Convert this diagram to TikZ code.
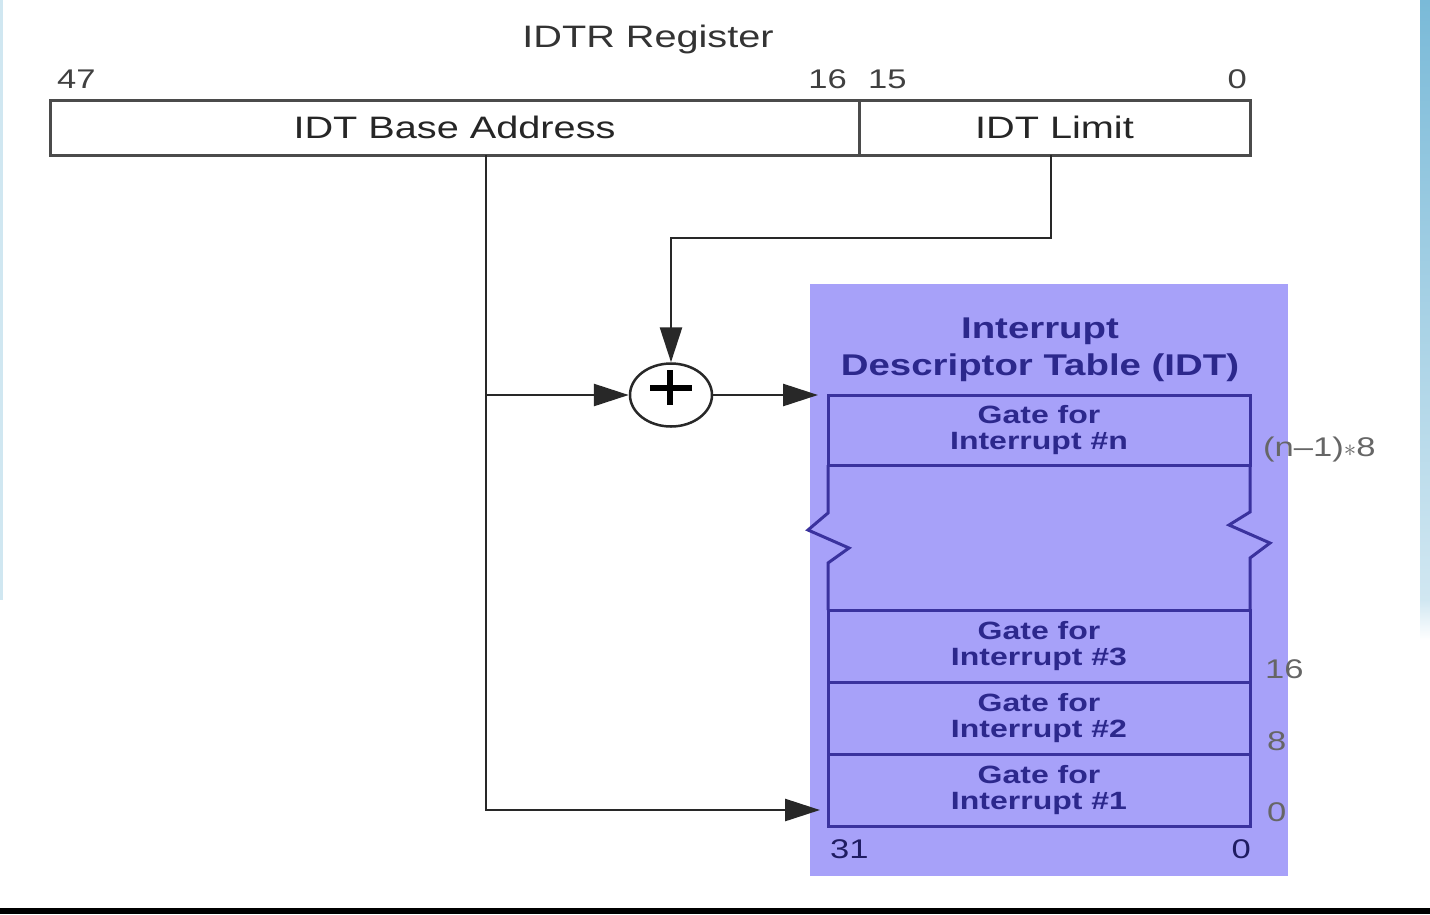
\documentclass[tikz,border=0pt]{standalone}
\usepackage{fontspec}
\setmainfont{Liberation Sans}[FakeStretch=1.28]
\usetikzlibrary{arrows.meta, positioning, shapes.geometric, calc}
\definecolor{idtfill}{RGB}{167,161,249}
\definecolor{idtline}{RGB}{58,50,158}
\definecolor{idttext}{RGB}{44,40,140}
\definecolor{wiregray}{RGB}{40,40,40}
\definecolor{reggray}{RGB}{75,75,75}
\definecolor{edgeblue}{RGB}{122,186,216}

\begin{document}
\begin{tikzpicture}[x=1pt, y=-1pt, node distance=0pt,
    field/.style={draw=reggray, line width=3pt, minimum height=55pt, inner sep=0pt, outer sep=0pt,
        text=black!85, font=\fontsize{31}{31}\selectfont},
    bitno/.style={inner sep=0pt, text=black!75, font=\fontsize{27}{27}\selectfont},
    offs/.style={bitno, anchor=base west, text=black!60},
    gate/.style={draw=idtline, line width=3pt, minimum width=422pt, minimum height=72pt, inner sep=0pt, outer sep=0pt,
        align=center, text=idttext, font=\bfseries\fontsize{25}{26}\selectfont},
    wire/.style={draw=wiregray, line width=2.7pt},
    arr/.style={wire, -{Triangle[length=35pt, width=22pt]}},
    adder/.style={ellipse, draw=wiregray, line width=2.5pt, minimum width=82pt, minimum height=63pt, inner sep=0pt},
    plus/.style={draw=black, line width=6pt}
]
    \useasboundingbox (0,0) rectangle (1430,914);
    \fill[white] (0,0) rectangle (1430,914);
    \shade[top color=edgeblue, bottom color=edgeblue!35] (1420,0) rectangle (1430,600);
    \shade[top color=edgeblue!35, bottom color=white] (1420,600) rectangle (1430,640);
    \fill[edgeblue!35] (0,0) rectangle (2.5,600);
    \fill[black] (0,908) rectangle (1430,914);

    % IDTR register
    \node[anchor=base, text=black!80, font=\fontsize{31}{31}\selectfont] (idtr) at (648,47) {IDTR Register};
    \node[field, minimum width=809pt] (base) at (454.5,127.5) {IDT Base Address};
    \node[field, minimum width=391pt, right=of base] (limit) {IDT Limit};
    \node[bitno, anchor=base west] (b47) at ($(base.north west)+(7,-12)$) {47};
    \node[bitno, anchor=base east] (b16) at ($(base.north east)+(-12,-12)$) {16};
    \node[bitno, anchor=base west] (b15) at ($(limit.north west)+(9,-12)$) {15};
    \node[bitno, anchor=base east] (b0) at ($(limit.north east)+(-3,-12)$) {0};

    % IDT in memory
    \node[fill=idtfill, minimum width=478pt, minimum height=592pt, inner sep=0pt] (idt) at (1049,580) {};
    \node[below=34pt of idt.north, xshift=-9pt, align=center, inner sep=0pt, text=idttext,
        font=\bfseries\fontsize{30}{37}\selectfont] (idtname) {Interrupt\\Descriptor Table (IDT)};
    \node[gate, minimum height=70pt] (rown) at (1039,430) {Gate for\\Interrupt \#n};
    \node[gate] (row1) at (1039,790) {Gate for\\Interrupt \#1};
    \node[gate, above=of row1] (row2) {Gate for\\Interrupt \#2};
    \node[gate, above=of row2] (row3) {Gate for\\Interrupt \#3};
    \draw[idtline, line width=3pt] (rown.south west) -- ++(0,48) -- ++(-20,17) -- ++(41,18) -- ++(-21,15) -- (row3.north west);
    \draw[idtline, line width=3pt] (rown.south east) -- ++(0,47) -- ++(-21,13) -- ++(41,18) -- ++(-20,15) -- (row3.north east);

    \node[offs] (offn) at ($(rown.south east)+(13,-9)$) {(n–1)$\ast$8};
    \node[offs] (off3) at ($(row3.south east)+(15,-4)$) {16};
    \node[offs] (off2) at ($(row2.south east)+(17,-4)$) {8};
    \node[offs] (off1) at ($(row1.south east)+(17,-5)$) {0};
    \node[bitno, anchor=base west, text=idttext!70!black] (t31) at ($(row1.south west)+(2,32)$) {31};
    \node[bitno, anchor=base east, text=idttext!70!black] (t0) at ($(row1.south east)+(1,32)$) {0};

    % adder and connectors
    \node[adder] (add) at (671,395) {};
    \draw[plus] ($(add)+(-21,-7)$) -- ++(42,0);
    \draw[plus] ($(add)+(-1,-25)$) -- ++(0,35);

    \coordinate (basetap) at ($(base.south west)+(436,0)$);
    \coordinate (limtap) at ($(limit.south west)+(192,0)$);
    \coordinate (entry0) at ($(row1.south west)+(0,-16)$);
    \draw[arr, shorten >=8pt] (basetap) |- (entry0);
    \draw[arr] (basetap |- add) -- (add.west);
    \draw[arr, shorten >=10pt] (add.east) -- (rown.north west);
    \draw[arr] (limtap) -- ++(0,83) -| (add.north);
\end{tikzpicture}
\end{document}
